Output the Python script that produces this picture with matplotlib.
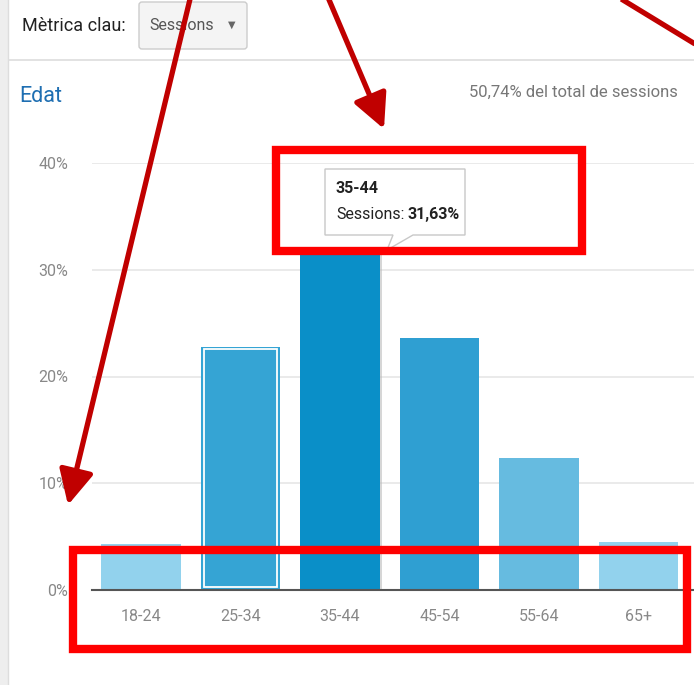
import matplotlib.pyplot as plt
import matplotlib.patches as mpatches
from matplotlib import font_manager

# data
ages = ["18-24", "25-34", "35-44", "45-54", "55-64", "65+"]
sessions = [4.3, 22.8, 31.63, 23.6, 12.4, 4.5]
colors = ["#92d2ed", "#35a4d4", "#0a8fc8", "#2f9fd2", "#66bbe0", "#92d2ed"]
y_ticks = [0, 10, 20, 30, 40]
y_tick_labels = ["0%", "10%", "20%", "30%", "40%"]
selected = 2

names = {f.name for f in font_manager.fontManager.ttflist}
base_font = "Liberation Sans Narrow" if "Liberation Sans Narrow" in names else "Roboto"
plt.rcParams["font.family"] = [base_font, "DejaVu Sans"]

W, H = 694, 685
fig = plt.figure(figsize=(W / 100, H / 100), dpi=100)


def fx(px):
    return px / W


def fy(py):
    return 1 - py / H


# overlay in pixel coordinates for page furniture
ov = fig.add_axes([0, 0, 1, 1], zorder=0)
ov.set_xlim(0, W)
ov.set_ylim(H, 0)
ov.axis("off")

ov.add_patch(mpatches.Rectangle((0, 0), 8, H, color="#eeeeee", lw=0))
ov.plot([8, 8], [0, H], color="#dddddd", lw=1)
ov.plot([9, W], [60, 60], color="#dddddd", lw=1.2)
ov.add_patch(mpatches.FancyBboxPatch((139, 2), 108, 47, boxstyle="round,pad=0,rounding_size=3",
                                     facecolor="#f4f4f4", edgecolor="#cccccc", lw=1))
ov.text(22, 26, "Mètrica clau:", fontsize=13, color="#222222", va="center", ha="left")
ov.text(149, 25, "Sessions", fontsize=11.5, color="#555555", va="center", ha="left")
ov.text(232, 25, "▼", fontsize=7, color="#666666", va="center", ha="center", family="DejaVu Sans")
ov.text(19, 96, "Edat", fontsize=15.5, color="#1f6fb2", va="center", ha="left")
ov.text(678, 92, "50,74% del total de sessions", fontsize=12, color="#777777", va="center", ha="right")

# chart axes
ax = fig.add_axes([fx(92), fy(590), fx(694 - 92), fy(163) - fy(590)], zorder=1)
x = range(len(ages))
bars = ax.bar(x, sessions, width=0.8, color=colors, zorder=3)
ax.bar(x[1], sessions[1] - 0.5, width=0.74, bottom=0.25, facecolor="none",
       edgecolor="white", lw=1.3, zorder=4)
ax.bar(x[selected] + 0.02, sessions[selected], width=0.8, color="#bbbbbb", alpha=0.6, zorder=2)
ax.set_xlim(-0.4925, 5.558)
ax.set_ylim(0, 40)
ax.set_yticks(y_ticks)
ax.set_yticklabels(y_tick_labels)
ax.set_xticks(list(x))
ax.set_xticklabels(ages)
ax.tick_params(axis="y", length=0, pad=17, labelsize=11.5, labelcolor="#888888")
ax.tick_params(axis="x", length=0, pad=14, labelsize=11.5, labelcolor="#888888")
ax.grid(axis="y", color="#e6e6e6", lw=1.2, zorder=0)
for s in ["top", "right", "left"]:
    ax.spines[s].set_visible(False)
ax.spines["bottom"].set_color("#555555")
ax.spines["bottom"].set_linewidth(1.5)
ax.spines["bottom"].set_zorder(5)
ax.set_facecolor("none")

# annotation layer
top = fig.add_axes([0, 0, 1, 1], zorder=2)
top.set_xlim(0, W)
top.set_ylim(H, 0)
top.axis("off")
top.patch.set_alpha(0)

# tooltip
tip = mpatches.Polygon([(325, 169), (465, 169), (465, 235), (413, 235), (387, 250),
                        (393, 235), (325, 235)], closed=True,
                       facecolor="white", edgecolor="#c8c8c8", lw=1)
top.add_patch(tip)
top.text(336, 188, ages[selected], fontsize=11.5, fontweight="bold", color="#222222", va="center")
top.text(336, 214, "Sessions:", fontsize=11.5, color="#222222", va="center")
top.text(408, 214, f"{sessions[selected]:.2f}%".replace(".", ","), fontsize=11.5,
         fontweight="bold", color="#222222", va="center")

# red boxes
red = "#ff0000"
top.add_patch(mpatches.Rectangle((276, 150), 306, 101, fill=False, edgecolor=red, lw=6))
top.add_patch(mpatches.Rectangle((73, 550), 614, 99, fill=False, edgecolor=red, lw=6))

# red arrows
dark = "#c00000"
arrow = dict(arrowstyle="-|>,head_length=1.5,head_width=0.75", color=dark, lw=3.8,
             shrinkA=0, shrinkB=0, mutation_scale=14)
top.annotate("", xy=(68, 505), xytext=(191, -5), arrowprops=arrow)
top.annotate("", xy=(384, 129), xytext=(327, -5), arrowprops=arrow)
top.plot([618, 700], [-3, 47], color=dark, lw=3.8, solid_capstyle="butt")

fig.savefig("out.png", dpi=100)
